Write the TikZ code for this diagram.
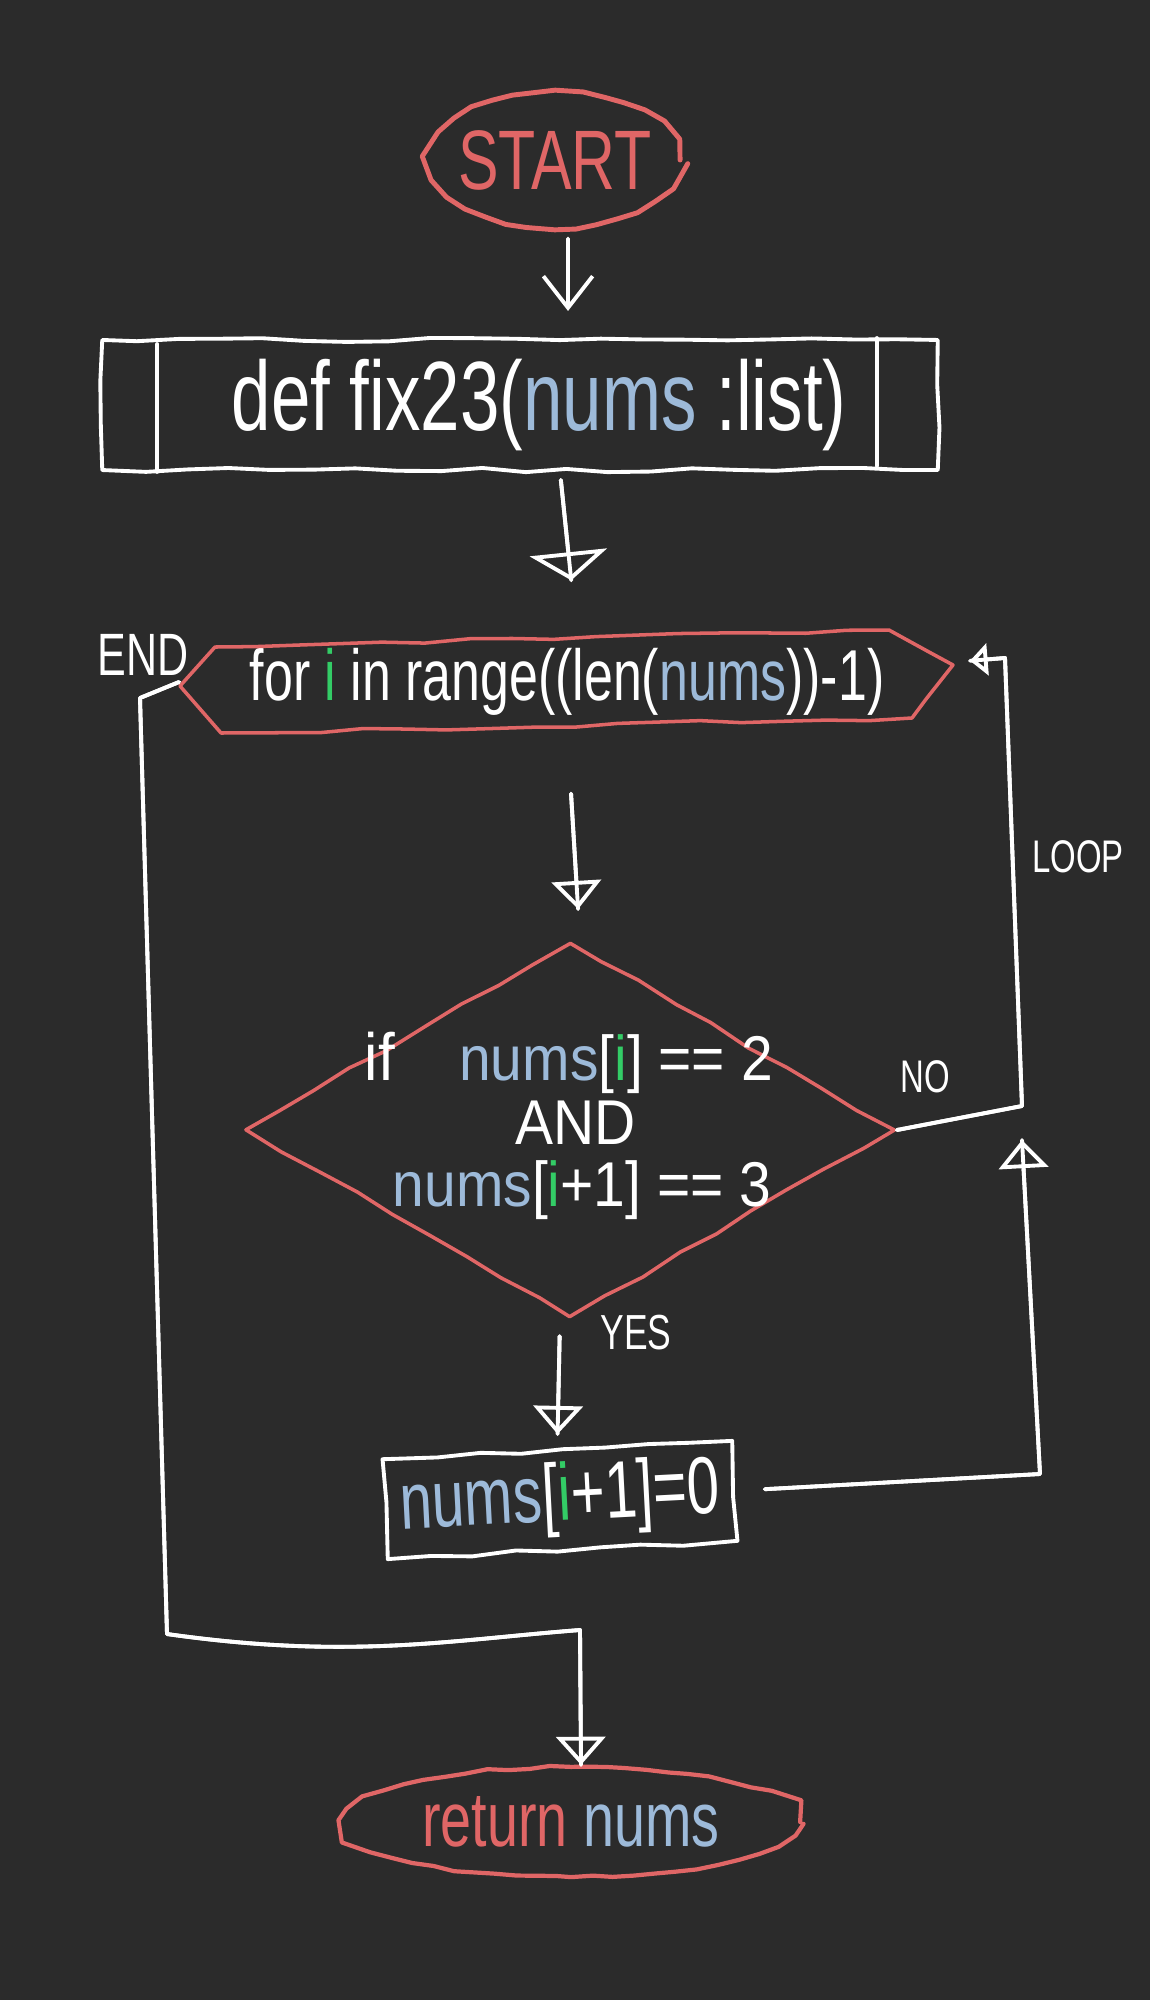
\documentclass[tikz,border=0pt]{standalone}
\usepackage{fontspec}
\setmainfont{Liberation Sans}[FakeStretch=0.72]
\newfontfamily\widefont{Liberation Sans}[FakeStretch=0.9]
\usetikzlibrary{shapes.geometric,arrows.meta,calc,decorations.pathmorphing}
\definecolor{bg}{HTML}{2B2B2B}
\definecolor{rd}{HTML}{E06666}
\definecolor{bl}{HTML}{9DBAD9}
\definecolor{gr}{HTML}{33CC66}
\newcommand{\fsz}[1]{\fontsize{#1}{#1}\selectfont}
\newcommand{\zb}[1]{\makebox[0pt]{#1}}
\begin{document}
\begin{tikzpicture}[x=0.01cm,y=-0.01cm,
  every node/.append style={text=white},
  sketch/.style={decorate,decoration={random steps,segment length=12pt,amplitude=0.6pt}},
  sketchc/.style={decorate,decoration={random steps,segment length=6pt,amplitude=0.4pt}},
  wl/.style={draw=white,line width=1.1pt,line cap=round,line join=round},
  rl/.style={draw=rd,line width=1pt,line cap=round,line join=round},
  stem/.style={postaction={draw=white,line width=1.1pt,-}},
  tipbig/.style={-{Triangle[open,width=22pt,length=8pt]},stem},
  tipmid/.style={-{Triangle[open,width=14pt,length=8pt]},stem},
  tipsml/.style={-{Triangle[open,width=9pt,length=5pt]},stem},
  tipvee/.style={-{Straight Barb[width=14pt,length=9pt]}},
  lbl/.style={inner sep=0pt},
  tight/.style={inner sep=0pt,text height=0.72em,text depth=0.12em}
]
\pgfmathsetseed{7}
\fill[bg] (0,0) rectangle (1150,2000);
\useasboundingbox (0,0) rectangle (1150,2000);

% START
\node[rl,line width=1.4pt,sketchc,ellipse,minimum width=2.5cm,minimum height=1.36cm,inner sep=0pt,font=\fsz{24}] (start) at (555,160) {\zb{\textcolor{rd}{START}}};

% def box
\node[wl,sketch,rectangle,minimum width=8.35cm,minimum height=1.3cm,inner sep=0pt,font=\fsz{28}] (def) at (520,405)
  {\zb{\hspace*{0.38cm}def fix23(\textcolor{bl}{nums} :list)}};
\draw[wl] ($(def.north west)+(57,6)$) -- ($(def.south west)+(57,0)$);
\draw[wl] ($(def.north east)+(-63,0)$) -- ($(def.south east)+(-63,-6)$);

% for hexagon
\node[minimum width=7.74cm,minimum height=0.9cm,inner sep=0pt,font=\fsz{20.5}] (forn) at (567,682)
  {\zb{for \textcolor{gr}{i} in range((len(\textcolor{bl}{nums}))-1)}};
\draw[rl,sketch] ($(forn.center)+(-387,4)$) -- ($(forn.center)+(-352,-35)$) -- ($(forn.center)+(322,-52)$)
  -- ($(forn.center)+(386,-17)$) -- ($(forn.center)+(345,36)$) -- ($(forn.center)+(-346,51)$) -- ($(forn.center)+(-387,4)$);

% decision
\node[rl,sketch,diamond,minimum width=6.5cm,minimum height=3.75cm,inner sep=0pt] (dec) at (570,1130) {};
\node[tight,font=\widefont\fsz{19}] (ifl) at (380,1070) {if};
\node[tight,font=\widefont\fsz{18}] (c1) at (616,1070) {\textcolor{bl}{nums}[\textcolor{gr}{i}] == 2};
\node[tight,font=\widefont\fsz{18}] (andl) at (576,1134) {AND};
\node[tight,font=\widefont\fsz{18}] (c2) at (582,1196) {\textcolor{bl}{nums}[\textcolor{gr}{i}+1] == 3};

% assignment
\node[wl,sketch,rectangle,rotate=3,minimum width=3.5cm,minimum height=1.0cm,inner sep=0pt,font=\fsz{23}] (asg) at (560,1500)
  {\zb{\textcolor{bl}{nums}[\textcolor{gr}{i}+1]=0}};

% return
\node[rl,line width=1.2pt,sketchc,ellipse,minimum width=4.58cm,minimum height=1.1cm,inner sep=0pt,font=\fsz{22}] (ret) at (571,1822)
  {\zb{\textcolor{rd}{return} \textcolor{bl}{nums}}};

% labels
\node[lbl,font=\fsz{17}] (endl) at (143,655) {END};
\node[lbl,font=\fsz{13}] (nol) at (925,1077) {NO};
\node[lbl,font=\fsz{14}] (yesl) at (636,1333) {YES};
\node[lbl,font=\fsz{13}] (loopl) at (1078,857) {LOOP};

% coordinates
\coordinate (n1) at (1022,1106);
\coordinate (n2) at (1005,658);
\coordinate (a1) at (1040,1474);
\coordinate (a2) at (1022,1140);
\coordinate (l1) at (140,698);
\coordinate (l2) at (167,1634);
\coordinate (l3) at (580,1630);

% connectors
\draw[wl,tipvee,shorten <=2.3pt,shorten >=7.7pt] ([xshift=0.13cm]start.south) -- ([xshift=0.48cm]def.north);
\draw[wl,tipbig,shorten <=2.3pt,shorten >=16pt] ([xshift=0.4cm]def.south) -- ([xshift=0.1cm]forn.north);
\draw[wl,tipmid,shorten <=18.8pt,shorten >=9pt] (forn.south) -- ([xshift=0.1cm]dec.north);
\draw[wl,tipmid,shorten <=4.8pt,shorten >=4pt] ([xshift=-0.1cm]dec.south) -- (asg.north);
\draw[wl,tipsml,shorten >=4.3pt] (dec.east) -- (n1) -- (n2) -- ([yshift=0.2cm]forn.east);
\draw[wl,tipmid,shorten <=8pt] (asg.east) -- (a1) -- (a2);
\draw[wl,tipmid] (forn.west) -- (l1) -- (l2) .. controls (350,1660) and (450,1640) .. (l3) -- ([xshift=0.1cm]ret.north);
\end{tikzpicture}
\end{document}
